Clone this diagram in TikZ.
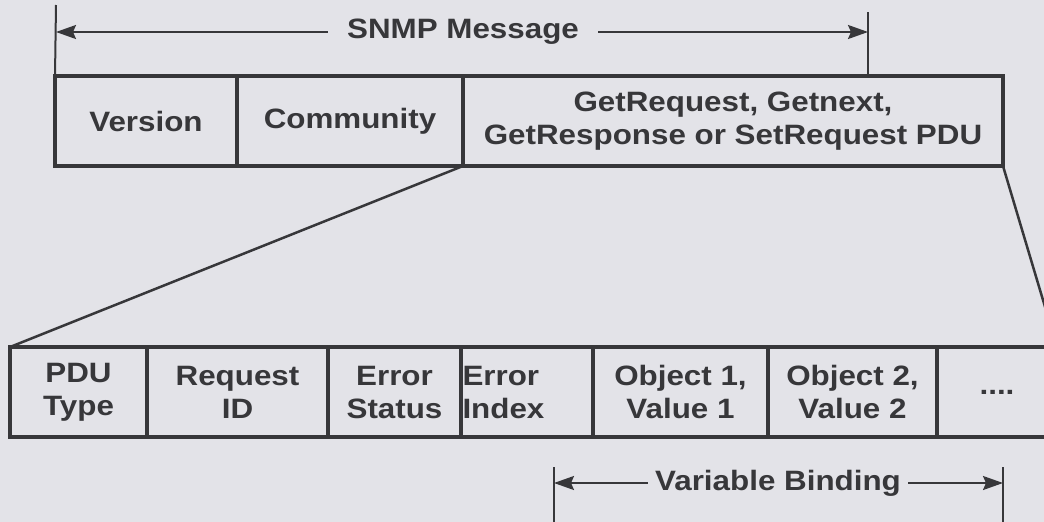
\documentclass[tikz,border=0pt]{standalone}
\usepackage{fontspec}
\setmainfont{Liberation Sans}[FakeStretch=1.12]
\usetikzlibrary{positioning,arrows.meta}

\definecolor{paper}{RGB}{227,227,232}
\definecolor{ink}{RGB}{55,55,58}

\begin{document}
\begin{tikzpicture}[x=1pt,y=-1pt,
  cell/.style={draw=ink, line width=3.5pt, minimum height=90pt, inner sep=0pt,
    outer sep=0pt, align=center, text=ink, font=\fontsize{28}{33}\selectfont\bfseries},
  spantext/.style={text=ink, inner ysep=0pt, font=\fontsize{28}{33}\selectfont\bfseries},
  span/.style={draw=ink, line width=2pt},
  tip/.style={-{Stealth[length=20pt,width=14pt,inset=3pt]}},
  link/.style={draw=ink, line width=2.5pt}]

%page

\useasboundingbox[fill=paper] (0,0) rectangle (1044,522);
\clip (0,0) rectangle (1044,522);

%
%SNMP message
%

\node[cell, minimum width=182pt, anchor=north west] (version) at (55,76) {Version};
\node[cell, minimum width=226pt, right=0pt of version] (community) {Community};
\node[cell, minimum width=540pt, right=0pt of community] (pdu) {GetRequest, Getnext,\\GetResponse or SetRequest PDU};

\coordinate (msgL) at (56,5); % left end mark
\coordinate (msgR) at (868,12); % right end mark

\draw[span] (msgL) -- (version.north west);
\draw[span] (msgR) -- (msgR |- pdu.north);

\node[spantext, inner xsep=19pt] (msg) at (463,32) {SNMP Message};
\draw[span,tip] (msg.west) -- (msgL |- msg);
\draw[span,tip] (msg.east) -- (msgR |- msg);

%
%PDU fields
%

\node[cell, minimum width=137pt, anchor=north west] (pdutype) at (10,347) {PDU\\Type};
\node[cell, minimum width=181pt, right=0pt of pdutype] (reqid) {Request\\ID};
\node[cell, minimum width=133pt, right=0pt of reqid] (errstat) {Error\\Status};
\node[cell, text width=129pt, inner xsep=1.5pt, align=left, right=0pt of errstat] (errindex) {Error\\Index};
\node[cell, minimum width=175pt, right=0pt of errindex] (obj1) {Object 1,\\Value 1};
\node[cell, minimum width=169pt, right=0pt of obj1] (obj2) {Object 2,\\Value 2};
\node[cell, minimum width=120pt, right=0pt of obj2] (more) {....};

%zoom lines

\draw[link] (pdu.south west) -- (pdutype.north west);
\draw[link] (pdu.south east) -- (more.north east);

%
%variable binding
%

\coordinate (varL) at (554,467); % left mark top
\coordinate (varR) at (1003,467); % right mark top
\coordinate (varLb) at (554,522);
\coordinate (varRb) at (1003,522);

\draw[span] (varL) -- (varLb);
\draw[span] (varR) -- (varRb);

\node[spantext, inner xsep=7pt] (vb) at (778,483) {Variable Binding};
\draw[span,tip] (vb.west) -- (varL |- vb);
\draw[span,tip] (vb.east) -- (varR |- vb);

\end{tikzpicture}
\end{document}
